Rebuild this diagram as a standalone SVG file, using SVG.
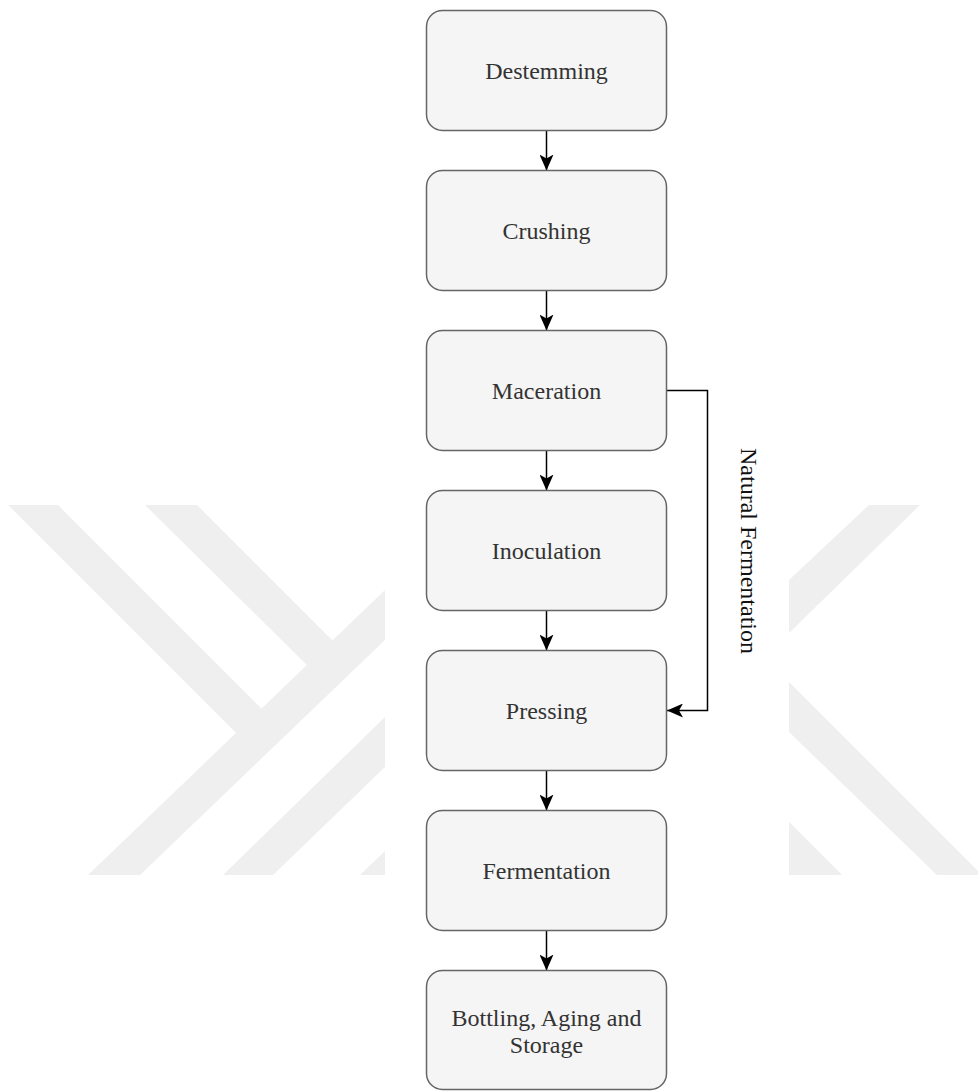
<svg xmlns="http://www.w3.org/2000/svg" width="978" height="1091" viewBox="0 0 978 1091">
  <style>
    .wm { fill: #efefef; stroke: none; }
    .box { fill: #f5f5f5; stroke: #666666; stroke-width: 1.5; }
    .edge { fill: none; stroke: #000000; stroke-width: 1.5; }
  </style>
  <defs>
    <marker id="arrow" viewBox="0 0 16 14" markerWidth="16" markerHeight="14" refX="16" refY="7" orient="auto" markerUnits="userSpaceOnUse">
      <path d="M16,7 L0,0 L4,7 L0,14 Z" fill="#000000" stroke="none"/>
    </marker>
  </defs>
  <rect x="0" y="0" width="978" height="1091" fill="#ffffff"/>

  <g id="watermark">
    <polygon class="wm" points="88,875 140,875 385,640 385,590"/>
    <polygon class="wm" points="8,505 58,505 270,717 245,742"/>
    <polygon class="wm" points="145,505 197,505 340,648 315,673"/>
    <polygon class="wm" points="223,875 273,875 385,767 385,717"/>
    <polygon class="wm" points="360,875 385,875 385,851"/>
    <polygon class="wm" points="869,505 920,505 789,633 789,580"/>
    <polygon class="wm" points="789,682 978,871 978,875 937,875 789,732"/>
    <polygon class="wm" points="789,822 842,875 789,875"/>
  </g>

  <g id="connectors">
    <path class="edge" d="M546.5,130.5 L546.5,170.5" marker-end="url(#arrow)"/>
    <path class="edge" d="M546.5,290.5 L546.5,330.5" marker-end="url(#arrow)"/>
    <path class="edge" d="M546.5,450.5 L546.5,490.5" marker-end="url(#arrow)"/>
    <path class="edge" d="M546.5,610.5 L546.5,650.5" marker-end="url(#arrow)"/>
    <path class="edge" d="M546.5,770.5 L546.5,810.5" marker-end="url(#arrow)"/>
    <path class="edge" d="M546.5,930.5 L546.5,970.5" marker-end="url(#arrow)"/>
    <path class="edge" d="M666.5,390.5 L707.5,390.5 L707.5,710.5 L667,710.5" marker-end="url(#arrow)"/>
    <text font-family="'Liberation Serif', 'Times New Roman', serif" font-size="24" fill="#111111" text-anchor="middle" transform="translate(741,551) rotate(90)">Natural Fermentation</text>
  </g>

  <g font-family="'Liberation Serif', 'Times New Roman', serif" font-size="24" fill="#333333" text-anchor="middle">
    <g id="destemming">
      <rect class="box" x="426.5" y="10.5" width="240" height="120" rx="16" ry="16"/>
      <text x="546.5" y="79">Destemming</text>
    </g>
    <g id="crushing">
      <rect class="box" x="426.5" y="170.5" width="240" height="120" rx="16" ry="16"/>
      <text x="546.5" y="239">Crushing</text>
    </g>
    <g id="maceration">
      <rect class="box" x="426.5" y="330.5" width="240" height="120" rx="16" ry="16"/>
      <text x="546.5" y="399">Maceration</text>
    </g>
    <g id="inoculation">
      <rect class="box" x="426.5" y="490.5" width="240" height="120" rx="16" ry="16"/>
      <text x="546.5" y="559">Inoculation</text>
    </g>
    <g id="pressing">
      <rect class="box" x="426.5" y="650.5" width="240" height="120" rx="16" ry="16"/>
      <text x="546.5" y="719">Pressing</text>
    </g>
    <g id="fermentation">
      <rect class="box" x="426.5" y="810.5" width="240" height="120" rx="16" ry="16"/>
      <text x="546.5" y="879">Fermentation</text>
    </g>
    <g id="bottling">
      <rect class="box" x="426.5" y="970.5" width="240" height="119" rx="16" ry="16"/>
      <text x="546.5" y="1026">Bottling, Aging and</text>
      <text x="546.5" y="1053">Storage</text>
    </g>
  </g>
</svg>
